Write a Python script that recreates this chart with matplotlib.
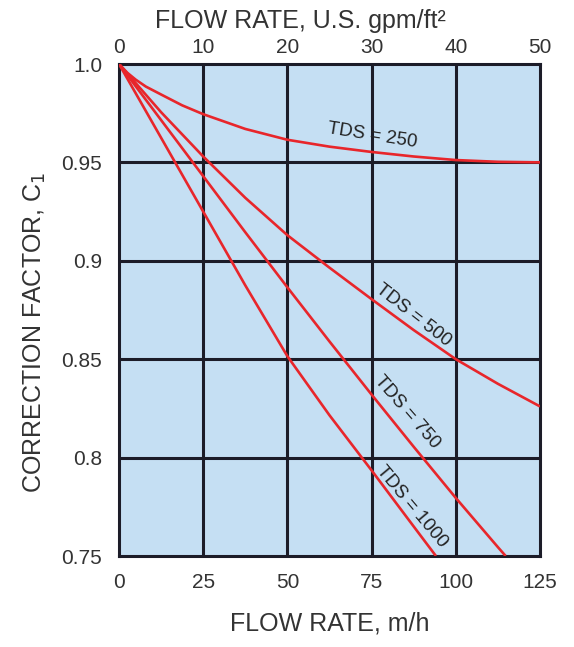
import matplotlib
matplotlib.use("Agg")
import matplotlib.pyplot as plt

plt.rcParams['font.family'] = ['Liberation Sans', 'DejaVu Sans']

# Data (flow rate in m/h, correction factor C1)
flow_250 = [0, 2.5, 5, 8, 12.5, 18.75, 25, 37.5, 50, 62.5, 75, 87.5, 100, 112.5, 125]
c_250 = [1.0, 0.9955, 0.992, 0.9885, 0.9845, 0.979, 0.9745, 0.967, 0.9615, 0.958,
         0.9553, 0.953, 0.9512, 0.9503, 0.950]

flow_500 = [0, 12.5, 25, 37.5, 50, 62.5, 75, 87.5, 100, 112.5, 125]
c_500 = [1.0, 0.9755, 0.953, 0.932, 0.913, 0.8965, 0.8805, 0.8648, 0.850, 0.8375, 0.826]

flow_750 = [0, 12.5, 25, 37.5, 50, 62.5, 75, 87.5, 100, 112.5, 114.8]
c_750 = [1.0, 0.9715, 0.943, 0.9145, 0.8865, 0.859, 0.832, 0.8055, 0.7795, 0.7545, 0.75]

flow_1000 = [0, 12.5, 25, 37.5, 50, 62.5, 75, 87.5, 94.1]
c_1000 = [1.0, 0.9625, 0.925, 0.8875, 0.8515, 0.8215, 0.7935, 0.765, 0.75]

series = [
    ("TDS = 250", flow_250, c_250),
    ("TDS = 500", flow_500, c_500),
    ("TDS = 750", flow_750, c_750),
    ("TDS = 1000", flow_1000, c_1000),
]

x_ticks = [0, 25, 50, 75, 100, 125]
top_ticks = [0, 10, 20, 30, 40, 50]
y_ticks = [0.75, 0.8, 0.85, 0.9, 0.95, 1.0]
y_tick_labels = ["0.75", "0.8", "0.85", "0.9", "0.95", "1.0"]

# label placement (data coords) and rotation
label_pos = {
    "TDS = 250": (75.1, 0.9634, -9),
    "TDS = 500": (87.3, 0.8725, -38),
    "TDS = 750": (85.5, 0.8232, -49),
    "TDS = 1000": (87.0, 0.7749, -50),
}

fig = plt.figure(figsize=(5.74, 6.47), dpi=100)
ax = fig.add_axes([119/574, 1-556/647, (540-119)/574, (556-64)/647])
ax.set_facecolor('#c5dff3')

grid_color = '#1c1c28'
for xv in x_ticks[1:-1]:
    ax.axvline(xv, color=grid_color, lw=2.2, zorder=1)
for yv in y_ticks[1:-1]:
    ax.axhline(yv, color=grid_color, lw=2.2, zorder=1)

for name, xs, ys in series:
    ax.plot(xs, ys, color='#e8262b', lw=1.9, zorder=3, solid_capstyle='butt')
    lx, ly, rot = label_pos[name]
    ax.text(lx, ly, name, rotation=rot, rotation_mode='anchor', ha='center', va='center',
            fontsize=13.5, color='#222222', zorder=4)

ax.set_xlim(0, 125)
ax.set_ylim(0.75, 1.0)
ax.set_xticks(x_ticks)
ax.set_yticks(y_ticks)
ax.set_yticklabels(y_tick_labels)
ax.tick_params(length=0, labelsize=15, colors='#333333')
ax.tick_params(axis='x', pad=12)
ax.tick_params(axis='y', pad=12)
for sp in ax.spines.values():
    sp.set_color(grid_color)
    sp.set_linewidth(2.2)

sec = ax.secondary_xaxis('top', functions=(lambda x: x * 0.4, lambda x: x / 0.4))
sec.set_xticks(top_ticks)
sec.tick_params(length=0, labelsize=15, colors='#333333', pad=5)
sec.spines['top'].set_visible(False)
sec.set_xlabel("FLOW RATE, U.S. gpm/ft²", fontsize=18, color='#333333', labelpad=7, x=0.432)

ax.set_xlabel("FLOW RATE, m/h", fontsize=18, color='#333333', labelpad=14)
ax.set_ylabel("CORRECTION FACTOR, C$_1$", fontsize=18, color='#333333', labelpad=10, y=0.455)

fig.savefig("out.png", dpi=100)
